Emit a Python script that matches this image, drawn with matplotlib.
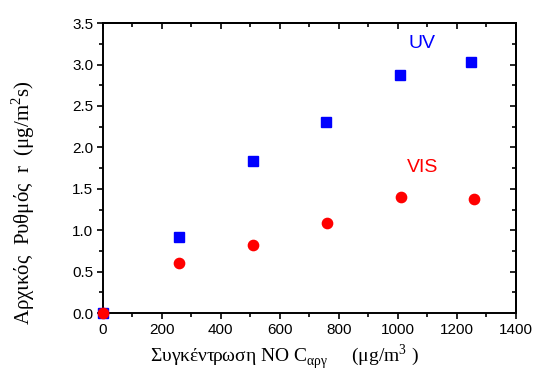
import matplotlib
matplotlib.use("Agg")
import matplotlib.pyplot as plt
from matplotlib.ticker import MultipleLocator

# Initial rate vs NO concentration
conc_uv = [0, 258, 508, 757, 1008, 1250]
rate_uv = [0.0, 0.92, 1.84, 2.31, 2.87, 3.03]

conc_vis = [0, 259, 510, 760, 1010, 1260]
rate_vis = [0.0, 0.61, 0.82, 1.09, 1.40, 1.38]

x_ticks = [0, 200, 400, 600, 800, 1000, 1200, 1400]
y_ticks = [0.0, 0.5, 1.0, 1.5, 2.0, 2.5, 3.0, 3.5]

plt.rcParams['font.family'] = ['Liberation Sans', 'DejaVu Sans']

fig = plt.figure(figsize=(5.36, 3.72), dpi=100)
ax = fig.add_axes([0.192, 0.158, 0.770, 0.780])

ax.plot(conc_uv, rate_uv, linestyle='none', marker='s', color='#0000ff',
        markersize=6.6, clip_on=False, zorder=3)
ax.plot(conc_vis, rate_vis, linestyle='none', marker='o', color='#ff0000',
        markersize=7.4, clip_on=False, zorder=4)

ax.text(1035, 3.25, 'UV', color='#0000ff', fontsize=14, va='center', ha='left')
ax.text(1030, 1.76, 'VIS', color='#ff0000', fontsize=14, va='center', ha='left')

ax.set_xlim(0, 1400)
ax.set_ylim(0, 3.5)
ax.set_xticks(x_ticks)
ax.set_yticks(y_ticks)
ax.set_xticklabels([str(v) for v in x_ticks])
ax.set_yticklabels([f'{v:.1f}' for v in y_ticks])
ax.xaxis.set_minor_locator(MultipleLocator(100))
ax.yaxis.set_minor_locator(MultipleLocator(0.25))

for side in ax.spines.values():
    side.set_linewidth(1.4)

ax.tick_params(which='both', direction='out', top=False, right=False,
               width=1.2, labelsize=11, colors='black')
ax.tick_params(which='major', length=4, pad=3)
ax.tick_params(which='minor', length=3)

# inward ticks on the top and right edges
ax_top = ax.secondary_xaxis('top')
ax_top.set_xticks(x_ticks)
ax_top.xaxis.set_minor_locator(MultipleLocator(100))
ax_top.tick_params(which='both', direction='in', labeltop=False, width=1.2)
ax_top.tick_params(which='major', length=4)
ax_top.tick_params(which='minor', length=3)
ax_top.spines['top'].set_linewidth(1.4)

ax_right = ax.secondary_yaxis('right')
ax_right.set_yticks(y_ticks)
ax_right.yaxis.set_minor_locator(MultipleLocator(0.25))
ax_right.tick_params(which='both', direction='in', labelright=False, width=1.2)
ax_right.tick_params(which='major', length=4)
ax_right.tick_params(which='minor', length=3)
ax_right.spines['right'].set_linewidth(1.4)

serif = ['Liberation Serif', 'DejaVu Serif']
ax.set_xlabel(r'Συγκέντρωση NO C$_{\mathregular{αργ}}$     (μg/m$^{\mathregular{3}}$ )',
              family=serif, fontsize=14)
ax.set_ylabel(r'Αρχικός  Ρυθμός  r  (μg/m$^{\mathregular{2}}$s)',
              family=serif, fontsize=15)

ax.xaxis.label.set_va('center')
ax.xaxis.set_label_coords(0.441, -0.152)
ax.yaxis.label.set_va('center')
ax.yaxis.set_label_coords(-0.194, 0.38)

fig.savefig('out.png', dpi=100)
